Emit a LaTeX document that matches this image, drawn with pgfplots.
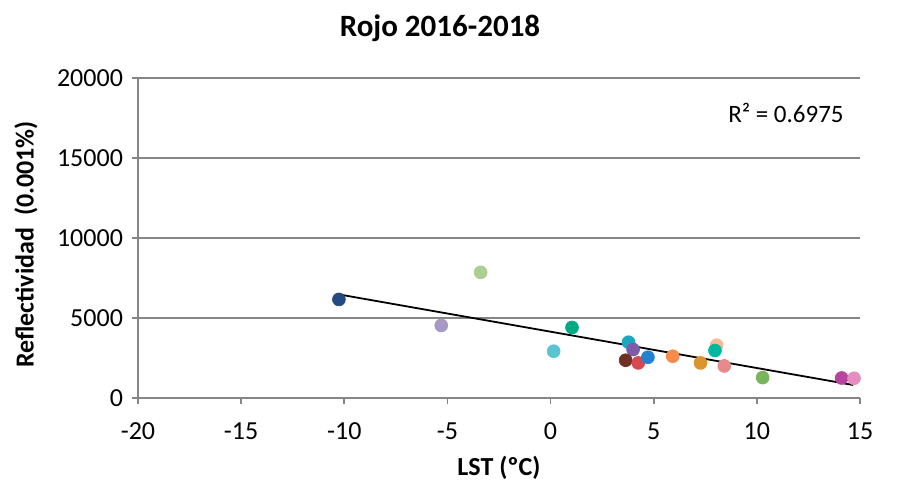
\documentclass[border=0pt]{standalone}
\usepackage{pgfplots}
\pgfplotsset{compat=1.18}
\usepackage{fontspec}
\setmainfont{Carlito}
\definecolor{gridgray}{RGB}{134,134,134}
\definecolor{c1}{RGB}{37,74,130}
\definecolor{c2}{RGB}{168,152,196}
\definecolor{c3}{RGB}{171,207,144}
\definecolor{c4}{RGB}{90,196,208}
\definecolor{c5}{RGB}{0,168,132}
\definecolor{c6}{RGB}{26,168,192}
\definecolor{c7}{RGB}{124,91,170}
\definecolor{c8}{RGB}{114,47,37}
\definecolor{c9}{RGB}{215,72,80}
\definecolor{c10}{RGB}{34,129,209}
\definecolor{c11}{RGB}{246,139,75}
\definecolor{c12}{RGB}{217,150,46}
\definecolor{c13}{RGB}{249,184,148}
\definecolor{c14}{RGB}{0,183,160}
\definecolor{c15}{RGB}{230,138,142}
\definecolor{c16}{RGB}{122,181,92}
\definecolor{c17}{RGB}{183,68,158}
\definecolor{c18}{RGB}{228,141,190}
\begin{document}
\begin{tikzpicture}
\begin{axis}[
  scale only axis,
  width=361pt, height=160pt,
  xmin=-20, xmax=15, ymin=0, ymax=20000,
  xtick={-20,-15,...,15}, ytick={0,5000,...,20000},
  axis x line*=bottom, axis y line*=left,
  axis line style={draw=gridgray, line width=0.8pt},
  every tick/.style={draw=gridgray, line width=0.8pt},
  tick align=outside, major tick length=3pt,
  ymajorgrids, grid style={draw=gridgray, line width=0.8pt},
  tick label style={font=\fontsize{13}{15}\selectfont},
  xticklabel style={yshift=-6pt},
  yticklabel style={xshift=-1pt},
  /pgf/number format/assume math mode=true,
  scaled y ticks=false, yticklabel style={/pgf/number format/fixed, /pgf/number format/1000 sep={}},
  xlabel={\textbf{LST (ºC)}}, ylabel={\textbf{Reflectividad\ \ (0.001\%)}},
  label style={font=\fontsize{13}{15}\selectfont},
  xlabel style={at={(axis description cs:0.5,0)}, anchor=center, yshift=-35pt},
  ylabel style={at={(axis description cs:0,0.48)}, anchor=center, yshift=56pt},
  clip=false,
]
\addplot[only marks, mark=*, mark size=3.2pt, scatter, point meta=explicit symbolic,
  scatter/@pre marker code/.code={\edef\temp{\noexpand\pgfsetfillcolor{\pgfplotspointmeta}\noexpand\pgfsetstrokecolor{\pgfplotspointmeta}}\temp},
  scatter/@post marker code/.code={}]
 table[meta=c] {
x y c
-10.26 6162 c1
-5.30 4534 c2
-3.39 7853 c3
0.15 2924 c4
1.04 4408 c5
3.78 3488 c6
4.00 3031 c7
3.64 2361 c8
4.25 2192 c9
4.72 2549 c10
5.92 2611 c11
7.27 2192 c12
8.05 3300 c13
7.97 2968 c14
8.42 2004 c15
10.28 1277 c16
14.11 1252 c17
14.71 1234 c18
};
\addplot[black, line width=0.9pt] coordinates {(-10.26,6475) (14.67,814)};
\node[anchor=east, font=\fontsize{12.5}{14}\selectfont] at (axis cs:14.55,17830) {R² = 0.6975};
\end{axis}
\node[font=\fontsize{15.5}{18}\selectfont\bfseries] at (151pt,185pt) {Rojo 2016-2018};
\useasboundingbox (-69pt,-45.5pt) rectangle (379.5pt,199pt);
\end{tikzpicture}
\end{document}
